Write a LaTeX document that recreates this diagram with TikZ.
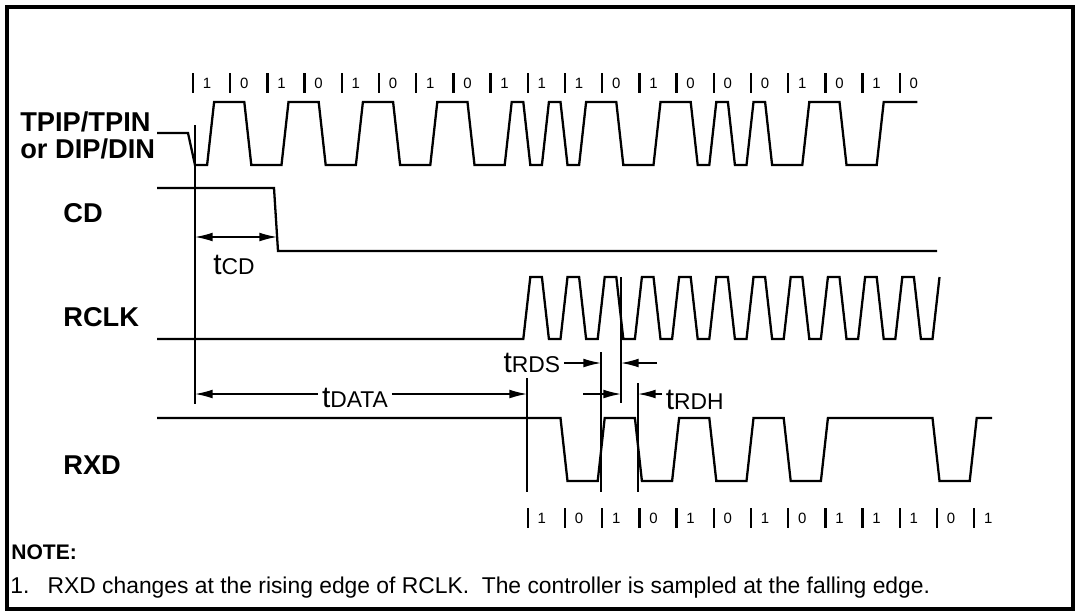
\documentclass[tikz,border=0pt]{standalone}
\usepackage{fontspec}
\setmainfont{Liberation Sans}
\usetikzlibrary{arrows.meta}
\def\bitmark[#1](#2,#3)#4{\draw[bitbar] (#2,#3-10) -- (#2,#3+10); \node[bitnum] (#1) at (#2+14,#3) {#4};}
\def\tsub#1{{\fontsize{17}{17}\selectfont t}{\fontsize{13}{13}\selectfont #1}}
\tikzset{
	wave/.style={line width=1.3pt, line join=miter},
	refline/.style={line width=0.6pt},
	dimarrow/.style={line width=0.8pt, -{Latex[length=10pt,width=5pt]}},
	dimboth/.style={line width=0.8pt, {Latex[length=10pt,width=5pt]}-{Latex[length=10pt,width=5pt]}},
	bitbar/.style={line width=1.4pt},
	bitnum/.style={inner sep=0pt, font=\fontsize{8.5}{8.5}\selectfont},
	siglabel/.style={inner sep=0pt, anchor=west, font=\fontsize{15.5}{15.5}\selectfont\bfseries},
	timelbl/.style={inner sep=2pt}
}
\begin{document}
\begin{tikzpicture}[x=0.02cm, y=-0.02cm]
			%%%%% START %%%%%
			\useasboundingbox (0,0) rectangle (1078,613);
			\draw[line width=2.4pt] (7,7) rectangle (1073,609);
			
			% signal names
			\node[siglabel] (tpip) at (20,122) {TPIP/TPIN};
			\node[siglabel] (dip) at (20,149) {or DIP/DIN};
			\node[siglabel] (cd) at (63,213) {CD};
			\node[siglabel] (rclk) at (63,317) {RCLK};
			\node[siglabel] (rxd) at (63,465) {RXD};
			
			% TPIP/TPIN, manchester line
			\draw[wave] (157,133) -- (188,133) -- (195,165)
				-- (207.1,165) -- (214.1,102) -- (244.3,102) -- (251.3,165)
				-- (281.5,165) -- (288.5,102) -- (318.7,102) -- (325.7,165)
				-- (355.9,165) -- (362.9,102) -- (393.1,102) -- (400.1,165)
				-- (430.3,165) -- (437.3,102) -- (467.5,102) -- (474.5,165)
				-- (504.7,165) -- (511.7,102) -- (523.3,102) -- (530.3,165)
				-- (541.9,165) -- (548.9,102) -- (560.5,102) -- (567.5,165)
				-- (579.1,165) -- (586.1,102) -- (616.3,102) -- (623.3,165)
				-- (653.5,165) -- (660.5,102) -- (690.7,102) -- (697.7,165)
				-- (709.3,165) -- (716.3,102) -- (727.9,102) -- (734.9,165)
				-- (746.5,165) -- (753.5,102) -- (765.1,102) -- (772.1,165)
				-- (802.3,165) -- (809.3,102) -- (839.5,102) -- (846.5,165)
				-- (876.7,165) -- (883.7,102) -- (917.4,102);
			
			% CD
			\draw[wave] (157,188) -- (274,188) -- (278,251) -- (937,251);
			
			% RCLK
			\draw[wave] (157,339)
				-- (523.3,339) -- (530.3,277) -- (541.9,277) -- (548.9,339)
				-- (560.5,339) -- (567.5,277) -- (579.1,277) -- (586.1,339)
				-- (597.7,339) -- (604.7,277) -- (616.3,277) -- (623.3,339)
				-- (634.9,339) -- (641.9,277) -- (653.5,277) -- (660.5,339)
				-- (672.1,339) -- (679.1,277) -- (690.7,277) -- (697.7,339)
				-- (709.3,339) -- (716.3,277) -- (727.9,277) -- (734.9,339)
				-- (746.5,339) -- (753.5,277) -- (765.1,277) -- (772.1,339)
				-- (783.7,339) -- (790.7,277) -- (802.3,277) -- (809.3,339)
				-- (820.9,339) -- (827.9,277) -- (839.5,277) -- (846.5,339)
				-- (858.1,339) -- (865.1,277) -- (876.7,277) -- (883.7,339)
				-- (895.3,339) -- (902.3,277) -- (913.9,277) -- (920.9,339)
				-- (932.5,339) -- (939.5,277);
			
			% RXD
			\draw[wave] (157,418)
				-- (560.5,418) -- (567.5,481) -- (597.7,481) -- (604.7,418)
				-- (634.9,418) -- (641.9,481) -- (672.1,481) -- (679.1,418)
				-- (709.3,418) -- (716.3,481) -- (746.5,481) -- (753.5,418)
				-- (783.7,418) -- (790.7,481) -- (820.9,481) -- (827.9,418)
				-- (932.5,418) -- (939.5,481) -- (969.7,481) -- (976.7,418)
				-- (992,418);
			
			% reference lines
			\draw[refline] (195,125) -- (195,404);
			\draw[refline] (527,378) -- (527,492);
			\draw[refline] (601,352) -- (601,492);
			\draw[refline] (621,277) -- (621,403);
			\draw[refline] (638,383) -- (638,492);
			
			% timing
			\coordinate (cdL) at (195,237);
			\coordinate (cdR) at (277,237);
			\coordinate (dataL) at (195,394);
			\coordinate (dataR) at (527,394);
			\coordinate (rdsR) at (601,363);
			\coordinate (rdsTail) at (657,363);
			\coordinate (rdsEdge) at (621,363);
			\coordinate (rdhTail) at (583,394);
			\coordinate (rdhL) at (621,394);
			\coordinate (rdhR) at (638,394);
			
			\node[timelbl] (tcd) at (234,265) {\tsub{CD}};
			\node[timelbl] (tdata) at (355,398) {\tsub{DATA}};
			\node[timelbl, anchor=east] (trds) at (564,363) {\tsub{RDS}};
			\node[timelbl, anchor=west] (trdh) at (662,400) {\tsub{RDH}};
			
			\draw[dimboth] (cdL) -- (cdR);
			\draw[dimarrow] (tdata.west |- dataL) -- (dataL);
			\draw[dimarrow] (tdata.east |- dataR) -- (dataR);
			\draw[dimarrow] (trds.east |- rdsR) -- (rdsR);
			\draw[dimarrow] (rdsTail) -- (rdsEdge);
			\draw[dimarrow] (rdhTail) -- (rdhL);
			\draw[dimarrow] (trdh.west |- rdhR) -- (rdhR);
			
			% bit cells, top
			\bitmark[ta0](193,83){1}
			\bitmark[ta1](230.2,83){0}
			\bitmark[ta2](267.4,83){1}
			\bitmark[ta3](304.6,83){0}
			\bitmark[ta4](341.8,83){1}
			\bitmark[ta5](379,83){0}
			\bitmark[ta6](416.2,83){1}
			\bitmark[ta7](453.4,83){0}
			\bitmark[ta8](490.6,83){1}
			\bitmark[ta9](527.8,83){1}
			\bitmark[ta10](565,83){1}
			\bitmark[ta11](602.2,83){0}
			\bitmark[ta12](639.4,83){1}
			\bitmark[ta13](676.6,83){0}
			\bitmark[ta14](713.8,83){0}
			\bitmark[ta15](751,83){0}
			\bitmark[ta16](788.2,83){1}
			\bitmark[ta17](825.4,83){0}
			\bitmark[ta18](862.6,83){1}
			\bitmark[ta19](899.8,83){0}
			
			% bit cells, bottom
			\bitmark[rb9](527.8,518){1}
			\bitmark[rb10](565,518){0}
			\bitmark[rb11](602.2,518){1}
			\bitmark[rb12](639.4,518){0}
			\bitmark[rb13](676.6,518){1}
			\bitmark[rb14](713.8,518){0}
			\bitmark[rb15](751,518){1}
			\bitmark[rb16](788.2,518){0}
			\bitmark[rb17](825.4,518){1}
			\bitmark[rb18](862.6,518){1}
			\bitmark[rb19](899.8,518){1}
			\bitmark[rb20](937,518){0}
			\bitmark[rb21](974.2,518){1}
			
			% note
			\node[inner sep=0pt, anchor=west, font=\fontsize{12}{12}\selectfont\bfseries] (note) at (11,552) {NOTE:};
			\node[inner sep=0pt, anchor=west, font=\fontsize{13}{13}\selectfont] (note1) at (10,588) {1.\hspace{0.8em}RXD changes at the rising edge of RCLK.\ \ The controller is sampled at the falling edge.};
			
			%%%%% END %%%%%
\end{tikzpicture}
\end{document}
